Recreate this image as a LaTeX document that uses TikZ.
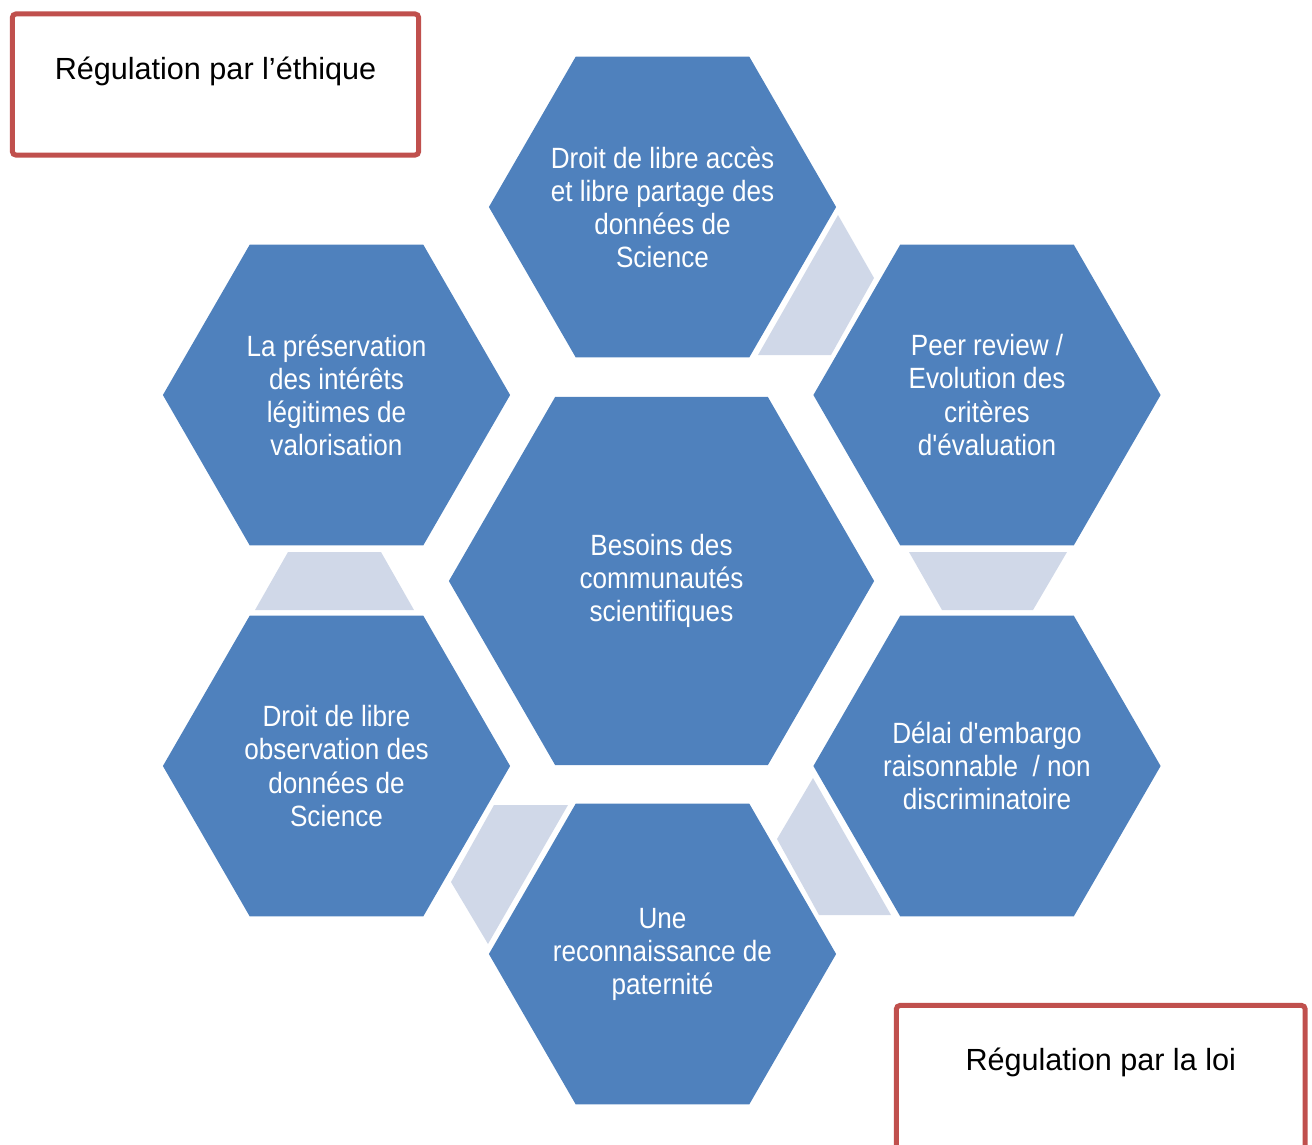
\documentclass[tikz,border=0pt]{standalone}
\usepackage{fontspec}
\setmainfont{Liberation Sans}
\newfontfamily\narrowsans[FakeStretch=0.89]{Liberation Sans}
\usetikzlibrary{shapes.geometric}
\definecolor{hexblue}{HTML}{4F81BD}
\definecolor{linkgrey}{HTML}{D0D8E8}
\definecolor{boxred}{HTML}{C0504D}

\begin{document}
\begin{tikzpicture}[x=0.01cm,y=-0.01cm,
   hexa/.style={regular polygon,regular polygon sides=6,fill=hexblue,
    text=white,inner sep=-0.5cm,outer sep=0pt,minimum size=3.47cm,
    align=center,font=\narrowsans\fontsize{8.34}{9.39}\selectfont},
   link/.style={fill=linkgrey},
   regbox/.style={rectangle,draw=boxred,line width=0.05cm,
    rounded corners=1pt,inner sep=0pt,text height=0.65cm,
    text depth=0.76cm,font=\fontsize{8.7}{10.4}\selectfont}
    ]

    \useasboundingbox (0,0) rectangle (1312,1144);
    \clip (0,0) rectangle (1312,1144);

    % Links between the hexagons:
    \fill[link] (838,215) -- (874,278) -- (831,355) -- (758,355) -- cycle;
    \fill[link] (909,552) -- (1067,552) -- (1033,610) -- (942,610) -- cycle;
    \fill[link] (813,778) -- (777,839) -- (819,915) -- (891,915) -- cycle;
    \fill[link] (494,805) -- (568,805) -- (488,944) -- (451,882) -- cycle;
    \fill[link] (255,610) -- (414,610) -- (381,552) -- (288,552) -- cycle;

    % Hexagons:
    \node[hexa,minimum size=4.25cm] at (661.5,581) (besoins)
      {Besoins des\\communautés\\scientifiques};
    \node[hexa] at (662.5,207) (acces)
      {Droit de libre accès\\et libre partage des\\données de\\Science};
    \node[hexa] at (987,395) (peer)
      {Peer review /\\Evolution des\\critères\\d'évaluation};
    \node[hexa] at (987,766) (delai)
      {Délai d'embargo\\raisonnable~ / non\\discriminatoire};
    \node[hexa] at (662.5,954) (paternite)
      {Une\\reconnaissance de\\paternité};
    \node[hexa] at (336.5,766) (observation)
      {Droit de libre\\observation des\\données de\\Science};
    \node[hexa] at (336.5,395) (valorisation)
      {La préservation\\des intérêts\\légitimes de\\valorisation};

    % Regulation boxes:
    \node[regbox,minimum width=4.06cm] at (215.5,84.5) (ethique)
      {Régulation par l’éthique};
    \node[regbox,minimum width=4.085cm,text depth=0.82cm]
      at (1100.75,1079) (loi) {Régulation par la loi};

\end{tikzpicture}
\end{document}
